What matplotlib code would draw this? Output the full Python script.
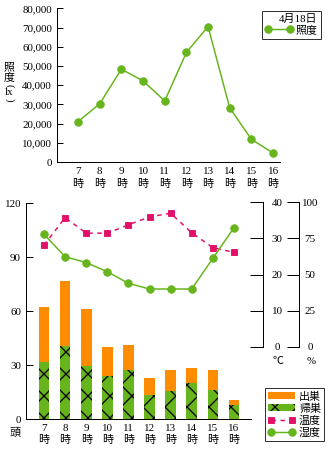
import matplotlib
matplotlib.use('Agg')
import matplotlib.pyplot as plt
from matplotlib.ticker import FuncFormatter
from matplotlib.lines import Line2D
from matplotlib.patches import Patch

DPI = 66
W, H = 329, 450
P = 72 / DPI  # points per pixel

plt.rcParams['font.family'] = ['Liberation Serif', 'Noto Sans CJK JP']
plt.rcParams['hatch.linewidth'] = 1.3 * P
plt.rcParams['axes.linewidth'] = 1.0 * P

# ---------------- data ----------------
hours = [7, 8, 9, 10, 11, 12, 13, 14, 15, 16]
hour_labels = [f"{h}\n時" for h in hours]
illuminance = [21000, 30300, 48300, 42200, 31800, 57000, 70500, 28200, 11800, 4700]
departures = [62.6, 77.0, 61.3, 40.2, 41.3, 22.9, 27.4, 28.5, 27.4, 10.7]   # 出巣
returns = [31.8, 40.9, 29.8, 24.2, 27.4, 13.5, 15.7, 20.3, 16.5, 8.1]       # 帰巣
temperature = [28.1, 35.7, 31.4, 31.4, 33.7, 35.9, 36.9, 31.5, 27.4, 26.1]  # 温度
humidity = [77.7, 62.3, 58.2, 51.9, 43.9, 40.0, 40.0, 40.0, 61.2, 82.3]     # 湿度
lux_ticks = [0, 10000, 20000, 30000, 40000, 50000, 60000, 70000, 80000]
count_ticks = [0, 30, 60, 90, 120]
temp_ticks = [0, 10, 20, 30, 40]
hum_ticks = [0, 25, 50, 75, 100]

GREEN = '#66b51c'
ORANGE = '#ff8c00'
PINK = '#e3106a'
FS = 11 * P

fig = plt.figure(figsize=(W / DPI, H / DPI), dpi=DPI)


def rect(x0, yt, x1, yb):
    return [x0 / W, 1 - yb / H, (x1 - x0) / W, (yb - yt) / H]


def ftext(px, py, s, **kw):
    kw.setdefault('fontsize', FS)
    return fig.text(px / W, 1 - py / H, s, ha='center', va='center', **kw)


x = list(range(len(hours)))

# ---------------- top chart ----------------
ax1 = fig.add_axes(rect(57, 8.3, 280, 162))
ax1.plot(x, illuminance, color=GREEN, lw=1.5 * P, marker='o', ms=7.5 * P,
         mfc=GREEN, mec=GREEN, label='照度')
ax1.set_xlim(-0.97, 9.32)
ax1.set_ylim(0, 80000)
ax1.set_yticks(lux_ticks)
ax1.yaxis.set_major_formatter(FuncFormatter(lambda v, p: f"{int(v):,}"))
ax1.set_xticks(x, hour_labels)
ax1.tick_params(axis='x', length=0, pad=6, labelsize=FS)
ax1.tick_params(axis='y', direction='in', length=6 * P, width=1 * P, pad=5 * P, labelsize=FS)
for lab in ax1.get_xticklabels():
    lab.set_linespacing(1.25)
for s in ('top', 'right'):
    ax1.spines[s].set_visible(False)

# vertical y label 照度（lx）
ftext(9, 67.5, '照')
ftext(9, 77.5, '度')
ftext(9, 86, '(', rotation=-90)
ftext(9, 92.5, 'lx')
ftext(9, 100, ')', rotation=-90)

leg1 = ax1.legend(loc='upper right', bbox_to_anchor=(321 / W, 1 - 11 / H),
                  bbox_transform=fig.transFigure, title='4月18日',
                  alignment='right', fontsize=FS, title_fontsize=FS,
                  frameon=True, fancybox=False, edgecolor='black',
                  handlelength=2.6, handletextpad=0.2, borderpad=0.3,
                  borderaxespad=0, numpoints=2, labelspacing=0.1)
leg1.get_frame().set_linewidth(1 * P)
leg1._legend_box.sep = 1

# ---------------- bottom chart ----------------
ax2 = fig.add_axes(rect(26, 203.3, 251, 419.3))
ax2.bar(x, departures, width=0.5, color=ORANGE, lw=0, label='出巣')
ax2.bar(x, returns, width=0.5, color=GREEN, edgecolor='black', lw=0,
        hatch='x', label='帰巣')
ax2.set_xlim(-0.853, 9.806)
ax2.set_ylim(0, 120)
ax2.set_yticks(count_ticks)
ax2.set_xticks(x, hour_labels)
ax2.tick_params(axis='x', length=0, pad=5, labelsize=FS)
ax2.tick_params(axis='y', direction='in', length=7 * P, width=1 * P, pad=5 * P, labelsize=FS)
for lab in ax2.get_xticklabels():
    lab.set_linespacing(1.25)
for s in ('top', 'right'):
    ax2.spines[s].set_visible(False)
ftext(15, 433, '頭')

# temperature axis
axT = fig.add_axes(rect(26, 202, 251, 347))
axT.patch.set_visible(False)
axT.plot(x, temperature, color=PINK, lw=1.5 * P, ls=(0, (3, 3)), marker='s',
         ms=6.5 * P, mfc=PINK, mec=PINK, label='温度')
axT.set_xlim(-0.853, 9.806)
axT.set_ylim(0, 40)
for s in ('top', 'left', 'bottom'):
    axT.spines[s].set_visible(False)
axT.spines['right'].set_position(('axes', (263.3 - 26) / 225))
axT.yaxis.set_ticks_position('right')
axT.set_yticks(temp_ticks, [str(t) for t in temp_ticks], ha='center')
axT.tick_params(axis='y', direction='in', length=13 * P, width=1 * P, pad=14 * P, labelsize=FS)
axT.set_xticks([])
ftext(278, 361, '℃')

# humidity axis
axH = fig.add_axes(rect(26, 202, 251, 347))
axH.patch.set_visible(False)
axH.plot(x, humidity, color=GREEN, lw=1.5 * P, marker='o', ms=7.5 * P,
         mfc=GREEN, mec=GREEN, label='湿度')
axH.set_xlim(-0.853, 9.806)
axH.set_ylim(0, 100)
for s in ('top', 'left', 'bottom'):
    axH.spines[s].set_visible(False)
axH.spines['right'].set_position(('axes', (299 - 26) / 225))
axH.yaxis.set_ticks_position('right')
axH.set_yticks(hum_ticks, [str(t) for t in hum_ticks], ha='center')
axH.tick_params(axis='y', direction='in', length=12 * P, width=1 * P, pad=11 * P, labelsize=FS)
axH.set_xticks([])
ftext(311, 361, '%')

# bottom legend
handles = [
    Patch(facecolor=ORANGE, lw=0),
    Patch(facecolor=GREEN, edgecolor='black', lw=0, hatch='x'),
    Line2D([], [], color=PINK, lw=1.5 * P, ls=(0, (3, 3)), marker='s', ms=6.5 * P),
    Line2D([], [], color=GREEN, lw=1.5 * P, marker='o', ms=7.5 * P),
]
labels = ['出巣', '帰巣', '温度', '湿度']
leg2 = axH.legend(handles, labels, loc='upper right',
                  bbox_to_anchor=(324 / W, 1 - 388 / H),
                  bbox_transform=fig.transFigure, fontsize=FS,
                  frameon=True, fancybox=False, edgecolor='black',
                  handlelength=2.5, handleheight=0.6, handletextpad=0.3,
                  borderpad=0.3, borderaxespad=0, numpoints=2,
                  labelspacing=0.15)
leg2.get_frame().set_linewidth(1 * P)

fig.savefig('out.png', dpi=DPI)
